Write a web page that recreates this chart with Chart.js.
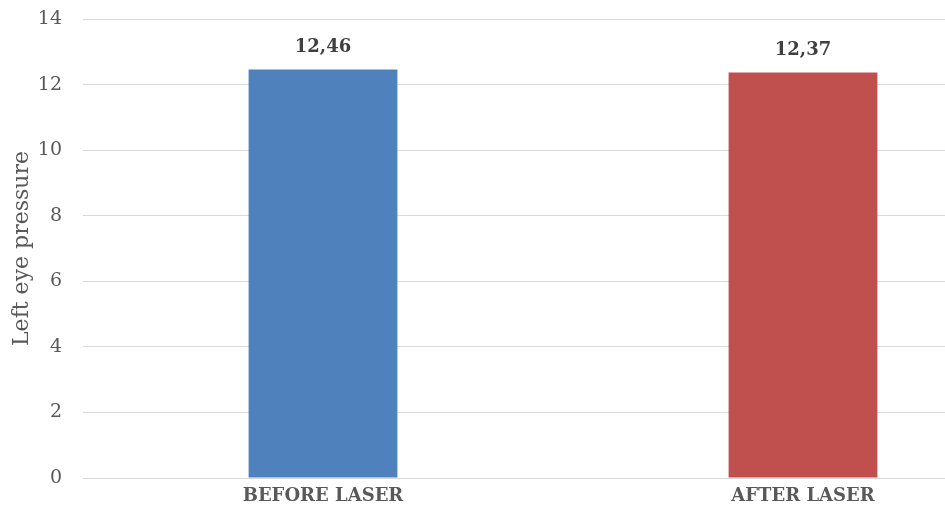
<!DOCTYPE html>
<html>
<head>
<meta charset="utf-8">
<script src="https://cdn.jsdelivr.net/npm/chart.js@4.4.1/dist/chart.umd.min.js"></script>
<style>
  html, body { margin: 0; padding: 0; background: #ffffff; overflow: hidden; }
  #wrap { width: 1045px; height: 508px; }
</style>
</head>
<body>
<div id="wrap"><canvas id="c" width="1045" height="508"></canvas></div>
<script>
// Mean intraocular pressure of the left eye, before and after laser treatment
const categories = ['BEFORE LASER', 'AFTER LASER'];
const pressureValues = [12.46, 12.37];
const valueLabels = ['12,46', '12,37'];
const barColors = ['#4F81BD', '#C0504D'];
const yTicks = [0, 2, 4, 6, 8, 10, 12, 14];

const serif = '"DejaVu Serif", serif';

// Writes each bar's value above it, with a decimal comma
const barValuePlugin = {
  id: 'barValues',
  afterDatasetsDraw(chart) {
    const ctx = chart.ctx;
    const meta = chart.getDatasetMeta(0);
    ctx.save();
    ctx.font = 'bold 18px ' + serif;
    ctx.fillStyle = '#404040';
    ctx.textAlign = 'center';
    ctx.textBaseline = 'middle';
    meta.data.forEach((bar, i) => {
      ctx.fillText(valueLabels[i], bar.x, bar.y - 22);
    });
    ctx.restore();
  }
};

new Chart(document.getElementById('c'), {
  type: 'bar',
  data: {
    labels: categories,
    datasets: [{
      data: pressureValues,
      backgroundColor: barColors,
      borderWidth: 0,
      categoryPercentage: 1,
      barPercentage: 0.31
    }]
  },
  options: {
    responsive: false,
    animation: false,
    layout: { padding: { top: 19, right: 2, left: 0, bottom: 0 } },
    plugins: {
      legend: { display: false },
      tooltip: { enabled: false }
    },
    scales: {
      x: {
        grid: { display: false, drawTicks: false },
        border: { display: true, color: '#d9d9d9', width: 1 },
        ticks: {
          color: '#595959',
          font: { family: serif, size: 18, weight: 'bold' },
          padding: 8,
          maxRotation: 0
        },
        afterFit(scale) {
          scale.height = 30;
          scale.paddingLeft = 0;
          scale.paddingRight = 0;
        }
      },
      y: {
        min: 0,
        max: 14,
        afterBuildTicks(scale) { scale.ticks = yTicks.map(v => ({ value: v })); },
        grid: { color: '#d9d9d9', drawTicks: false },
        border: { display: false },
        ticks: {
          color: '#595959',
          font: { family: serif, size: 19 },
          padding: 21
        },
        title: {
          display: true,
          text: 'Left eye pressure',
          color: '#595959',
          font: { family: serif, size: 22 },
          padding: { top: 9, bottom: 0 }
        },
        afterFit(scale) {
          scale.width = 83;
          scale.paddingTop = 0;
          scale.paddingBottom = 0;
        }
      }
    }
  },
  plugins: [barValuePlugin]
});
</script>
</body>
</html>
